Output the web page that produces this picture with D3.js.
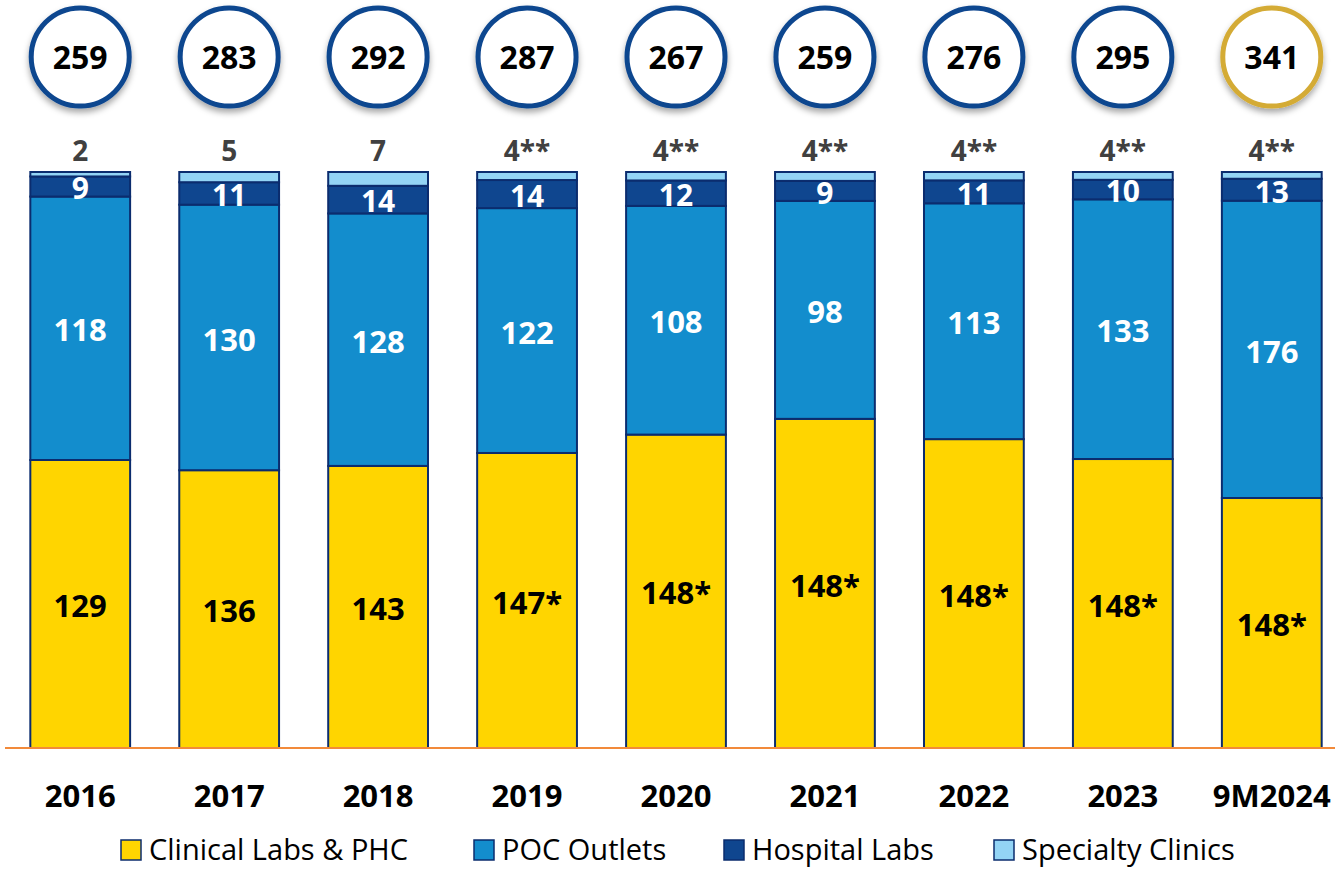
<!DOCTYPE html>
<html lang="en">
<head>
  <meta charset="UTF-8" />
  <title>Outlets by segment</title>
  <script src="https://d3js.org/d3.v7.min.js"></script>
  <style>
    body { margin: 0; background: #fff; }
    svg { display: block; font-family: 'Open Sans', 'Noto Sans', sans-serif; }
  </style>
</head>
<body>
  <svg id="chart" width="1335" height="869"></svg>
  <script>
    const years = ['2016', '2017', '2018', '2019', '2020', '2021', '2022', '2023', '9M2024'];
    const clinical = [129, 136, 143, 147, 148, 148, 148, 148, 148];
    const poc = [118, 130, 128, 122, 108, 98, 113, 133, 176];
    const hospital = [9, 11, 14, 14, 12, 9, 11, 10, 13];
    const specialty = [2, 5, 7, 4, 4, 4, 4, 4, 4];
    const totals = [259, 283, 292, 287, 267, 259, 276, 295, 341];
    const clinicalLabels = ['129', '136', '143', '147*', '148*', '148*', '148*', '148*', '148*'];
    const specialtyLabels = ['2', '5', '7', '4**', '4**', '4**', '4**', '4**', '4**'];
    const seriesNames = ['Clinical Labs & PHC', 'POC Outlets', 'Hospital Labs', 'Specialty Clinics'];

    const colors = ['#FFD500', '#138DCD', '#0F468F', '#93D4F5'];
    const keys = ['clinical', 'poc', 'hospital', 'specialty'];

    const rows = years.map((y, i) => ({
      year: y,
      clinical: clinical[i],
      poc: poc[i],
      hospital: hospital[i],
      specialty: specialty[i]
    }));

    const svg = d3.select('#chart');

    const x = d3.scaleBand()
      .domain(years)
      .range([5, 1347])
      .paddingInner(0.33)
      .paddingOuter(0.17);

    const y = d3.scaleLinear().domain([0, 1]).range([748, 172]);

    const stack = d3.stack().keys(keys).offset(d3.stackOffsetExpand);
    const series = stack(rows);

    const defs = svg.append('defs');
    const shadow = defs.append('filter').attr('id', 'shadow')
      .attr('x', '-30%').attr('y', '-30%').attr('width', '160%').attr('height', '170%');
    shadow.append('feDropShadow')
      .attr('dx', 0).attr('dy', 4).attr('stdDeviation', 3)
      .attr('flood-color', '#000').attr('flood-opacity', 0.35);

    // bars
    const layer = svg.append('g')
      .selectAll('g')
      .data(series)
      .join('g')
      .attr('fill', (d, i) => colors[i]);

    layer.selectAll('rect')
      .data(d => d)
      .join('rect')
      .attr('x', d => x(d.data.year))
      .attr('y', d => y(d[1]))
      .attr('width', x.bandwidth())
      .attr('height', d => y(d[0]) - y(d[1]))
      .attr('stroke', '#0B2C6E')
      .attr('stroke-width', 2);

    // axis line
    svg.append('line')
      .attr('x1', 5).attr('x2', 1335)
      .attr('y1', y(0)).attr('y2', y(0))
      .attr('stroke', '#F28A3A')
      .attr('stroke-width', 2);

    const cx = d => x(d) + x.bandwidth() / 2;

    // segment labels
    const labelGroup = svg.append('g').attr('font-weight', 'bold').attr('text-anchor', 'middle');
    series.forEach((s, si) => {
      if (si === 3) return;
      labelGroup.selectAll(null)
        .data(s)
        .join('text')
        .attr('x', d => cx(d.data.year))
        .attr('y', d => (y(d[0]) + y(d[1])) / 2 + 2)
        .attr('dy', '0.36em')
        .attr('font-size', si === 2 ? 30 : 31)
        .attr('fill', si === 0 ? '#000' : '#fff')
        .text((d, i) => si === 0 ? clinicalLabels[i] : si === 1 ? poc[i] : hospital[i]);
    });

    // specialty labels above bars
    svg.append('g')
      .selectAll('text')
      .data(years)
      .join('text')
      .attr('x', d => cx(d))
      .attr('y', 161)
      .attr('text-anchor', 'middle')
      .attr('font-size', 28)
      .attr('font-weight', 'bold')
      .attr('fill', '#404040')
      .text((d, i) => specialtyLabels[i]);

    // total circles
    const circ = svg.append('g')
      .selectAll('g')
      .data(years)
      .join('g')
      .attr('transform', d => `translate(${cx(d)},57)`);

    circ.append('circle')
      .attr('r', 49)
      .attr('fill', '#fff')
      .attr('stroke', (d, i) => i === years.length - 1 ? '#D4AB35' : '#0F468F')
      .attr('stroke-width', 5)
      .attr('filter', 'url(#shadow)');

    circ.append('text')
      .attr('text-anchor', 'middle')
      .attr('dy', '0.36em')
      .attr('font-size', 32)
      .attr('font-weight', 'bold')
      .attr('fill', '#000')
      .text((d, i) => totals[i]);

    // x axis labels
    svg.append('g')
      .selectAll('text')
      .data(years)
      .join('text')
      .attr('x', d => cx(d))
      .attr('y', 796)
      .attr('dy', '0.36em')
      .attr('text-anchor', 'middle')
      .attr('font-size', 31)
      .attr('font-weight', 'bold')
      .attr('fill', '#000')
      .text(d => d);

    // legend
    const legendX = [121, 474, 724, 994];
    const legend = svg.append('g')
      .selectAll('g')
      .data(seriesNames)
      .join('g')
      .attr('transform', (d, i) => `translate(${legendX[i]},850)`);

    legend.append('rect')
      .attr('x', 0).attr('y', -10)
      .attr('width', 20).attr('height', 20)
      .attr('fill', (d, i) => colors[i])
      .attr('stroke', '#0B2C6E')
      .attr('stroke-width', 1.5);

    legend.append('text')
      .attr('x', 28)
      .attr('y', 10)
      .attr('font-size', 29)
      .attr('fill', '#000')
      .text(d => d);
  </script>
</body>
</html>
